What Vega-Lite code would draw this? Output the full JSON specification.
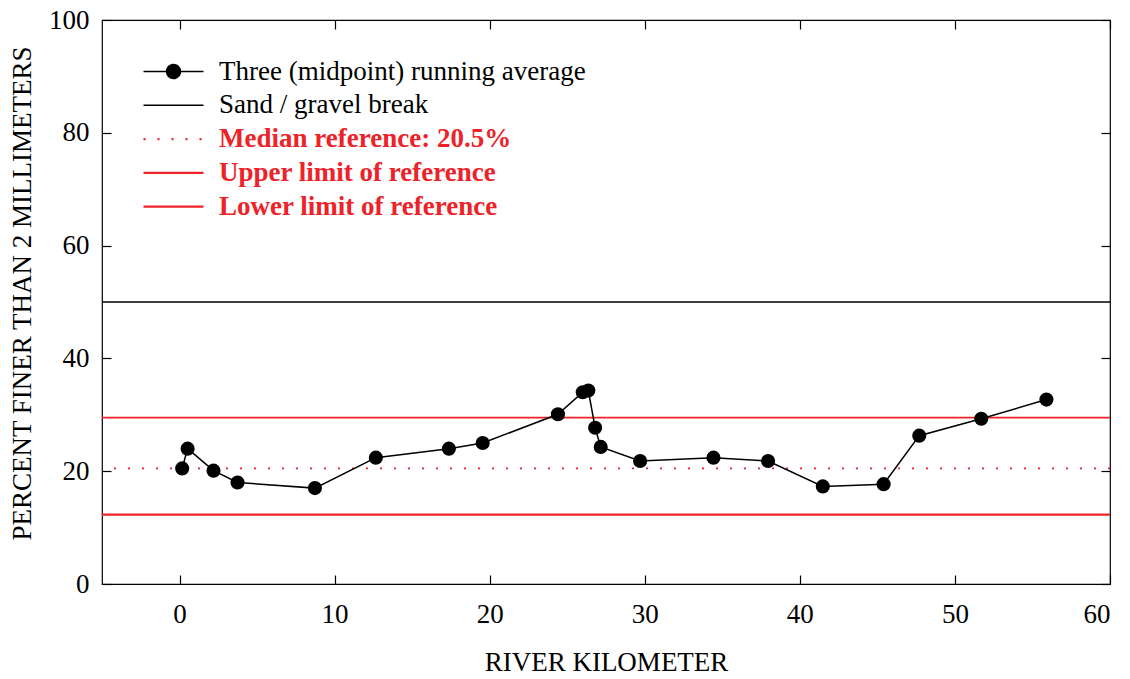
{
  "$schema": "https://vega.github.io/schema/vega-lite/v6.json",
  "width": 1008,
  "height": 564,
  "autosize": "none",
  "padding": {"left": 102, "top": 20, "right": 20, "bottom": 95},
  "config": {
    "font": "Liberation Serif",
    "view": {"stroke": "black", "strokeWidth": 1.2},
    "axis": {
      "grid": false,
      "domain": false,
      "tickColor": "black",
      "tickSize": -9,
      "tickWidth": 1.2,
      "labelColor": "black",
      "labelFont": "Liberation Serif",
      "labelFontSize": 27,
      "titleFont": "Liberation Serif",
      "titleFontSize": 27,
      "titleFontWeight": "normal",
      "titleColor": "black"
    }
  },
  "datasets": {
    "series": [
      {"km": 0.17, "pct": 20.5, "name": "Three (midpoint) running average"},
      {"km": 0.52, "pct": 24.0, "name": "Three (midpoint) running average"},
      {"km": 2.19, "pct": 20.1, "name": "Three (midpoint) running average"},
      {"km": 3.74, "pct": 18.0, "name": "Three (midpoint) running average"},
      {"km": 8.73, "pct": 17.0, "name": "Three (midpoint) running average"},
      {"km": 12.66, "pct": 22.4, "name": "Three (midpoint) running average"},
      {"km": 17.37, "pct": 24.0, "name": "Three (midpoint) running average"},
      {"km": 19.55, "pct": 25.0, "name": "Three (midpoint) running average"},
      {"km": 24.4, "pct": 30.1, "name": "Three (midpoint) running average"},
      {"km": 26.0, "pct": 34.0, "name": "Three (midpoint) running average"},
      {"km": 26.36, "pct": 34.3, "name": "Three (midpoint) running average"},
      {"km": 26.8, "pct": 27.7, "name": "Three (midpoint) running average"},
      {"km": 27.16, "pct": 24.3, "name": "Three (midpoint) running average"},
      {"km": 29.7, "pct": 21.8, "name": "Three (midpoint) running average"},
      {"km": 34.43, "pct": 22.4, "name": "Three (midpoint) running average"},
      {"km": 37.95, "pct": 21.8, "name": "Three (midpoint) running average"},
      {"km": 41.48, "pct": 17.3, "name": "Three (midpoint) running average"},
      {"km": 45.4, "pct": 17.7, "name": "Three (midpoint) running average"},
      {"km": 47.7, "pct": 26.3, "name": "Three (midpoint) running average"},
      {"km": 51.7, "pct": 29.3, "name": "Three (midpoint) running average"},
      {"km": 55.9, "pct": 32.7, "name": "Three (midpoint) running average"}
    ],
    "refs": [
      {"name": "Sand / gravel break", "pct": 50},
      {"name": "Median reference: 20.5%", "pct": 20.5},
      {"name": "Upper limit of reference", "pct": 29.5},
      {"name": "Lower limit of reference", "pct": 12.3}
    ]
  },
  "resolve": {"axis": {"x": "independent", "y": "independent"}},
  "layer": [
    {
      "data": {"name": "refs"},
      "mark": {"type": "rule"},
      "encoding": {
        "y": {"field": "pct", "type": "quantitative", "scale": {"domain": [0, 100], "nice": false}, "axis": null},
        "color": {
          "field": "name",
          "type": "nominal",
          "scale": {
            "domain": ["Three (midpoint) running average", "Sand / gravel break", "Median reference: 20.5%", "Upper limit of reference", "Lower limit of reference"],
            "range": ["black", "black", "#ee2229", "#ee2229", "#ee2229"]
          },
          "legend": {
            "title": null,
            "orient": "none",
            "legendX": 38,
            "legendY": 38,
            "padding": 0,
            "symbolSize": 400,
            "symbolType": "M-3,0H3",
            "symbolOffset": 20,
            "labelOffset": 32,
            "labelFont": "Liberation Serif",
            "labelFontSize": 27,
            "labelLimit": 700,
            "labelColor": "black",
            "rowPadding": 5.8,
            "encode": {
              "symbols": {
                "update": {
                  "shape": {"signal": "datum.value === 'Three (midpoint) running average' ? 'M-3,0H3M0.7,0A0.7,0.7,0,1,1,-0.7,0A0.7,0.7,0,1,1,0.7,0Z' : 'M-3,0H3'"},
                  "fill": {"signal": "datum.value === 'Three (midpoint) running average' ? 'black' : 'transparent'"},
                  "stroke": {"signal": "(datum.value === 'Three (midpoint) running average' || datum.value === 'Sand / gravel break') ? 'black' : '#ee2229'"},
                  "strokeDash": {"signal": "datum.value === 'Median reference: 20.5%' ? [2, 12] : [1, 0]"},
                  "strokeWidth": {"signal": "(datum.value === 'Three (midpoint) running average' || datum.value === 'Sand / gravel break') ? 1.4 : 2.2"},
                  "opacity": {"value": 1}
                }
              },
              "labels": {
                "update": {
                  "fill": {"signal": "(datum.value === 'Three (midpoint) running average' || datum.value === 'Sand / gravel break') ? 'black' : '#ee2229'"},
                  "fontWeight": {"signal": "(datum.value === 'Three (midpoint) running average' || datum.value === 'Sand / gravel break') ? 'normal' : 'bold'"}
                }
              }
            }
          }
        },
        "strokeDash": {
          "field": "name",
          "type": "nominal",
          "scale": {
            "domain": ["Sand / gravel break", "Median reference: 20.5%", "Upper limit of reference", "Lower limit of reference"],
            "range": [[1, 0], [2, 12], [1, 0], [1, 0]]
          },
          "legend": null
        },
        "strokeWidth": {
          "field": "name",
          "type": "nominal",
          "scale": {
            "domain": ["Sand / gravel break", "Median reference: 20.5%", "Upper limit of reference", "Lower limit of reference"],
            "range": [1.3, 2.2, 2.2, 2.2]
          },
          "legend": null
        }
      }
    },
    {
      "data": {"name": "series"},
      "mark": {"type": "line", "strokeWidth": 1.5},
      "encoding": {
        "x": {
          "field": "km",
          "type": "quantitative",
          "scale": {"domain": [-5, 60], "nice": false},
          "axis": {"orient": "bottom", "values": [0, 10, 20, 30, 40, 50, 60], "title": "RIVER KILOMETER", "labelPadding": 26, "titlePadding": 22}
        },
        "y": {
          "field": "pct",
          "type": "quantitative",
          "scale": {"domain": [0, 100], "nice": false},
          "axis": {"orient": "left", "values": [0, 20, 40, 60, 80, 100], "title": "PERCENT FINER THAN 2 MILLIMETERS", "labelPadding": 22, "titlePadding": 12, "titleY": 273}
        },
        "color": {"field": "name", "type": "nominal"}
      }
    },
    {
      "data": {"name": "series"},
      "mark": {"type": "point", "filled": true, "size": 200, "color": "black", "opacity": 1},
      "encoding": {
        "x": {
          "field": "km",
          "type": "quantitative",
          "scale": {"domain": [-5, 60], "nice": false},
          "axis": {"orient": "top", "values": [0, 10, 20, 30, 40, 50, 60], "labels": false, "title": null}
        },
        "y": {
          "field": "pct",
          "type": "quantitative",
          "scale": {"domain": [0, 100], "nice": false},
          "axis": {"orient": "right", "values": [0, 20, 40, 60, 80, 100], "labels": false, "title": null}
        }
      }
    }
  ]
}
